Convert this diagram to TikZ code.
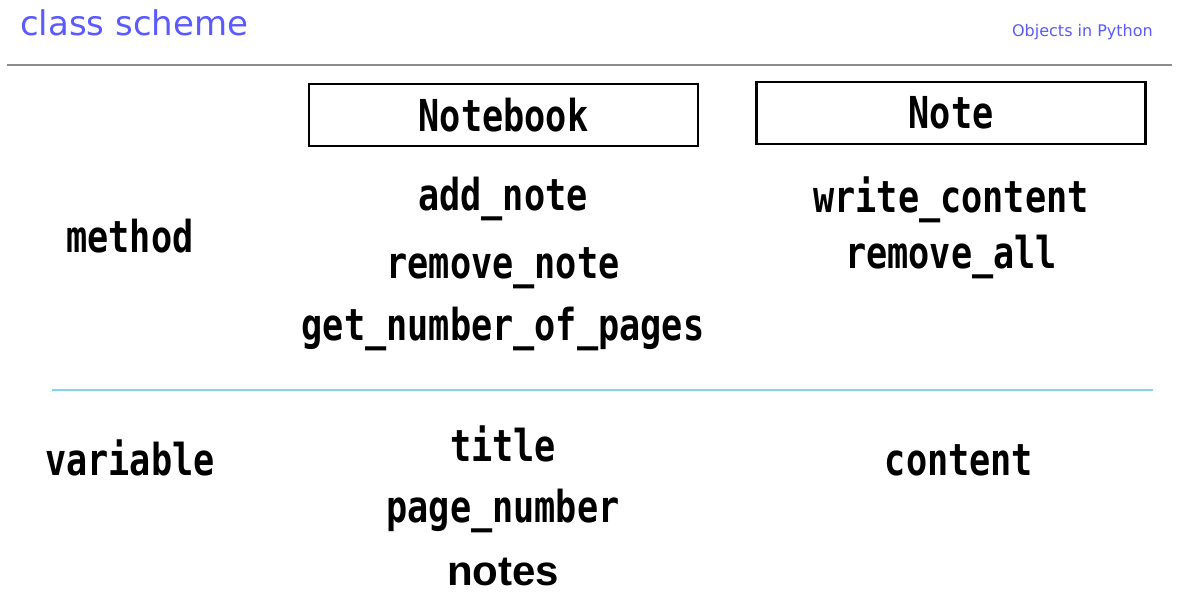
\documentclass[tikz,border=0pt]{standalone}
\usepackage{fontspec}
\setmainfont{DejaVu Sans}
\newfontfamily\codefont[FakeStretch=0.8]{DejaVu Sans Mono}
\newfontfamily\notesfont{Liberation Sans}
\definecolor{headblue}{RGB}{90,90,255}
\definecolor{rulegray}{RGB}{140,140,140}
\definecolor{splitblue}{RGB}{128,212,240}

\begin{document}
\begin{tikzpicture}[x=1pt, y=-1pt, every node/.style={inner sep=0pt}]

        \tikzstyle{member}=[anchor=base, font=\codefont\bfseries\fontsize{44}{48}\selectfont]
        \tikzstyle{class}=[draw, line width=2.5pt, minimum width=389pt, minimum height=62pt,
                font=\codefont\bfseries\fontsize{44}{48}\selectfont]

        \useasboundingbox (0,0) rectangle (1177,604);

        % header
        \node[anchor=base west, text=headblue, font=\fontsize{34}{38}\selectfont] (head) at (20,36) {class scheme};
        \node[anchor=base east, text=headblue, font=\fontsize{16}{19}\selectfont] (topic) at (1153,37) {Objects in Python};
        \coordinate (rule_l) at (7,65);
        \coordinate (rule_r) at (1172,65);
        \draw[rulegray, line width=1.5pt] (rule_l) -- (rule_r);

        % classes
        \node[class] (notebook) at (503.5,115) {Notebook};
        \node[class] (note)     at (951,113)   {Note};

        % methods
        \node[member] (method)   at (130,252) {method};
        \node[member] (add_note) at (503,211) {add\_note};
        \node[member] (rm_note)  at (503,278) {remove\_note};
        \node[member] (get_pages) at (503,340) {get\_number\_of\_pages};
        \node[member] (write)    at (951,212) {write\_content};
        \node[member] (rm_all)   at (951,268) {remove\_all};

        \coordinate (split_l) at (52,390);
        \coordinate (split_r) at (1153,390);
        \draw[splitblue, line width=1.5pt] (split_l) -- (split_r);

        % variables
        \node[member] (variable) at (130,475) {variable};
        \node[member] (title)    at (503,461) {title};
        \node[member] (page_num) at (503,522) {page\_number};
        \node[anchor=base, font=\notesfont\bfseries\fontsize{42}{46}\selectfont] (notes) at (503,585) {notes};
        \node[member] (content)  at (959,475) {content};

\end{tikzpicture}
\end{document}
